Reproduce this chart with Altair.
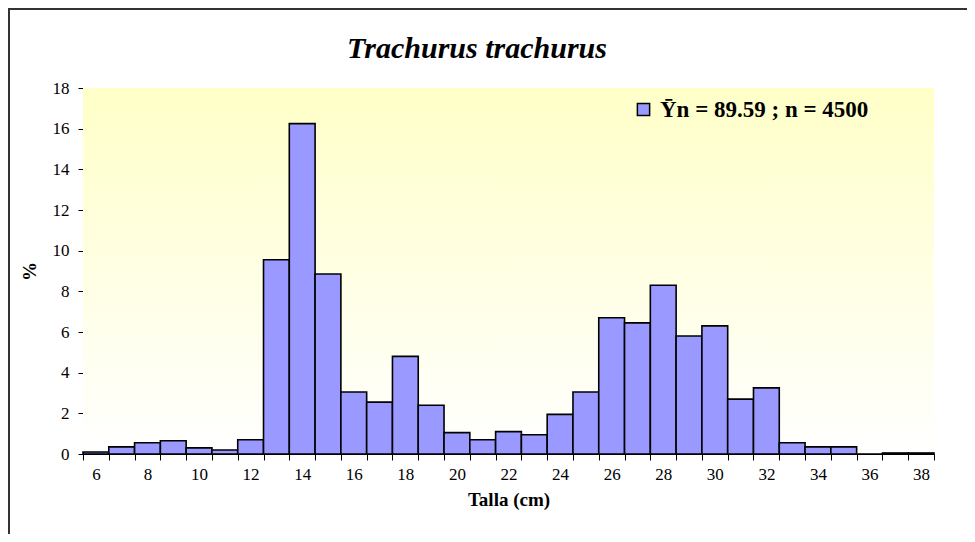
import altair as alt
import pandas as pd

talla = [6, 7, 8, 9, 10, 11, 12, 13, 14, 15, 16, 17, 18, 19, 20, 21, 22,
         23, 24, 25, 26, 27, 28, 29, 30, 31, 32, 33, 34, 35, 36, 37, 38]
porcentaje = [0.1, 0.35, 0.55, 0.65, 0.3, 0.2, 0.7, 9.55, 16.25, 8.85, 3.05,
              2.55, 4.8, 2.4, 1.05, 0.7, 1.1, 0.95, 1.95, 3.05, 6.7, 6.45,
              8.3, 5.8, 6.3, 2.7, 3.25, 0.55, 0.35, 0.35, 0.0, 0.05, 0.05]
serie = "Ȳn = 89.59 ; n = 4500"
titulo = "Trachurus trachurus"

df = pd.DataFrame({"talla": talla, "pct": porcentaje, "serie": [serie] * len(talla)})

W, H = 851, 366
FONT = "Liberation Serif"

bg = alt.Chart(alt.Data(values=[{}])).mark_rect(
    fill=alt.Gradient(
        gradient="linear",
        stops=[alt.GradientStop(color="#FFFFC8", offset=0),
               alt.GradientStop(color="#FFFFFF", offset=1)],
        x1=0, x2=0, y1=0, y2=1,
    )
).encode(x=alt.value(0), x2=alt.value(W), y=alt.value(0), y2=alt.value(H))

bars = alt.Chart(df).mark_bar(stroke="black", strokeWidth=1.6).encode(
    x=alt.X(
        "talla:O",
        scale=alt.Scale(paddingInner=0, paddingOuter=0),
        axis=alt.Axis(
            title="Talla (cm)",
            tickBand="extent",
            labelAngle=0,
            labelExpr="datum.value % 2 == 0 ? datum.label : ''",
            labelFont=FONT, labelFontSize=17, labelColor="black",
            labelPadding=6,
            titleFont=FONT, titleFontSize=19, titleFontWeight="bold",
            titleColor="black", titlePadding=8,
            domainColor="black", tickColor="black", tickSize=6,
        ),
    ),
    y=alt.Y(
        "pct:Q",
        scale=alt.Scale(domain=[0, 18]),
        axis=alt.Axis(
            title="%",
            values=[0, 2, 4, 6, 8, 10, 12, 14, 16, 18],
            grid=False,
            labelFont=FONT, labelFontSize=17, labelColor="black",
            labelPadding=9,
            titleFont=FONT, titleFontSize=19, titleFontWeight="bold",
            titleColor="black", titlePadding=13,
            domainColor="black", tickColor="black", tickSize=5,
        ),
    ),
    color=alt.Color(
        "serie:N",
        scale=alt.Scale(range=["#9999FF"]),
        legend=alt.Legend(
            title=None, orient="none", legendX=549, legendY=10,
            symbolType="square", symbolSize=150, symbolStrokeColor="black",
            symbolStrokeWidth=1.5, symbolOpacity=1,
            labelFont=FONT, labelFontSize=23, labelFontWeight="bold",
            labelColor="black", labelLimit=400, labelOffset=5,
        ),
    ),
)

title = alt.Chart(alt.Data(values=[{"t": titulo}])).mark_text(
    font=FONT, fontSize=30, fontWeight="bold", fontStyle="italic",
    color="black", align="center", baseline="alphabetic",
).encode(text="t:N", x=alt.value(394), y=alt.value(-30))

border = alt.Chart(alt.Data(values=[{}])).mark_rect(
    fill=None, stroke="#333333", strokeWidth=2
).encode(x=alt.value(-74), x2=alt.value(W + 200), y=alt.value(-79), y2=alt.value(H + 200))

chart = alt.layer(bg, bars, title, border).properties(
    width=W, height=H,
    autosize=alt.AutoSizeParams(type="none"),
    padding={"left": 75, "top": 80, "right": 33, "bottom": 80},
).configure_view(stroke=None)

chart.save("out.html", embed_options={"renderer": "svg", "actions": False})
